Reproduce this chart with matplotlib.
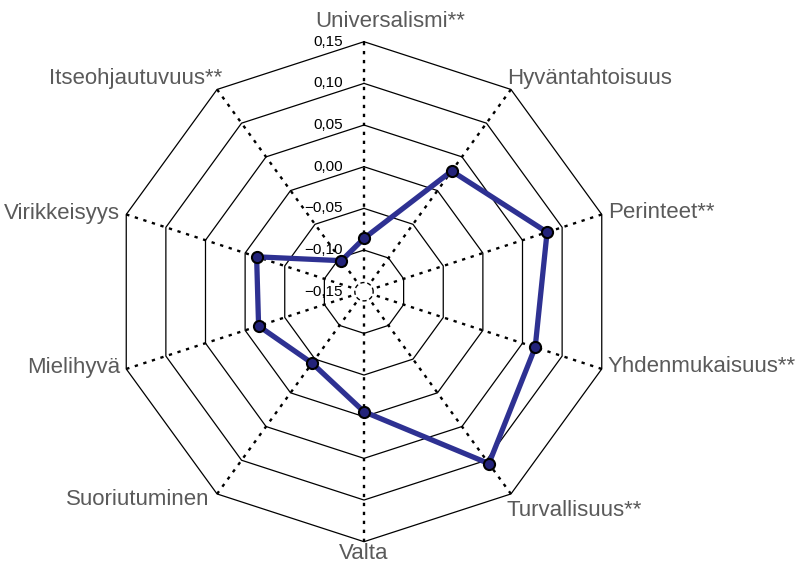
import numpy as np
import matplotlib
matplotlib.use("Agg")
import matplotlib.pyplot as plt

# arvot luettu kuvasta
categories = ["Universalismi**", "Hyväntahtoisuus", "Perinteet**", "Yhdenmukaisuus**",
              "Turvallisuus**", "Valta", "Suoriutuminen", "Mielihyvä",
              "Virikkeisyys", "Itseohjautuvuus**"]
values = [-0.086, 0.029, 0.081, 0.066, 0.105, -0.006, -0.044, -0.017, -0.0145, -0.104]
ring_values = [-0.10, -0.05, 0.00, 0.05, 0.10, 0.15]
tick_values = [-0.15, -0.10, -0.05, 0.00, 0.05, 0.10, 0.15]
tick_labels = ["\u22120,15", "\u22120,10", "\u22120,05", "0,00", "0,05", "0,10", "0,15"]
vmin = -0.15

n = len(categories)
ang = np.pi / 2 - np.arange(n) * 2 * np.pi / n
px = 1 / 833.3  # yksi pikseli datayksiköissä


def xy(v, a):
    r = np.asarray(v) - vmin
    return r * np.cos(a), r * np.sin(a)


fig = plt.figure(figsize=(7.98, 5.64), dpi=100)
ax = fig.add_axes([0, 0, 1, 1])
ax.set_xlim(-364 * px, (798 - 364) * px)
ax.set_ylim(-(564 - 291.7) * px, 291.7 * px)
ax.set_aspect("equal")
ax.axis("off")

# renkaat (kymmenkulmiot)
a_closed = np.append(ang, ang[0])
for rv in ring_values:
    x, y = xy(np.full(n + 1, rv), a_closed)
    ax.plot(x, y, color="black", lw=0.9, zorder=1)

# pisteviivat keskeltä
r0 = 0.011
for a in ang:
    x, y = xy([ring_values[-1], vmin + r0], np.array([a, a]))
    ax.plot(x, y, color="black", lw=1.7, linestyle=(0, (1.4, 2.4)), zorder=1)
t = np.linspace(0, 2 * np.pi, 100)
ax.plot(r0 * np.cos(t), r0 * np.sin(t), color="black", lw=1.0,
        linestyle=(0, (3, 2)), zorder=1)

# asteikon luvut
for tv, tl in zip(tick_values, tick_labels):
    ax.text(-21 * px, tv - vmin, tl, ha="right", va="center",
            fontsize=11, color="black", family="Liberation Sans")

# kategorioiden nimet: (dx, dy, ha) kärjestä pikseleinä
label_pos = [(26, 20, "center"), (-4, 11, "left"), (6, 2, "left"), (6, 2, "left"),
             (-4, -17, "left"), (0, -12, "center"), (-8, -6, "right"),
             (-6, 1, "right"), (-6, 1, "right"), (5, 11, "right")]
for c, a, (dx, dy, ha) in zip(categories, ang, label_pos):
    x, y = xy(ring_values[-1], a)
    ax.text(x + dx * px, y + dy * px, c, ha=ha, va="center",
            fontsize=16, color="#5a5a5a", family="Liberation Sans")

# arvopolygoni
vals = np.append(values, values[0])
x, y = xy(vals, a_closed)
ax.plot(x, y, color="#2e3192", lw=3.8, zorder=3, solid_joinstyle="round")
ax.plot(x[:-1], y[:-1], linestyle="none", marker="o", markersize=8,
        markerfacecolor="#23237a", markeredgecolor="black", markeredgewidth=1.5, zorder=4)

fig.savefig("out.png", dpi=100)
